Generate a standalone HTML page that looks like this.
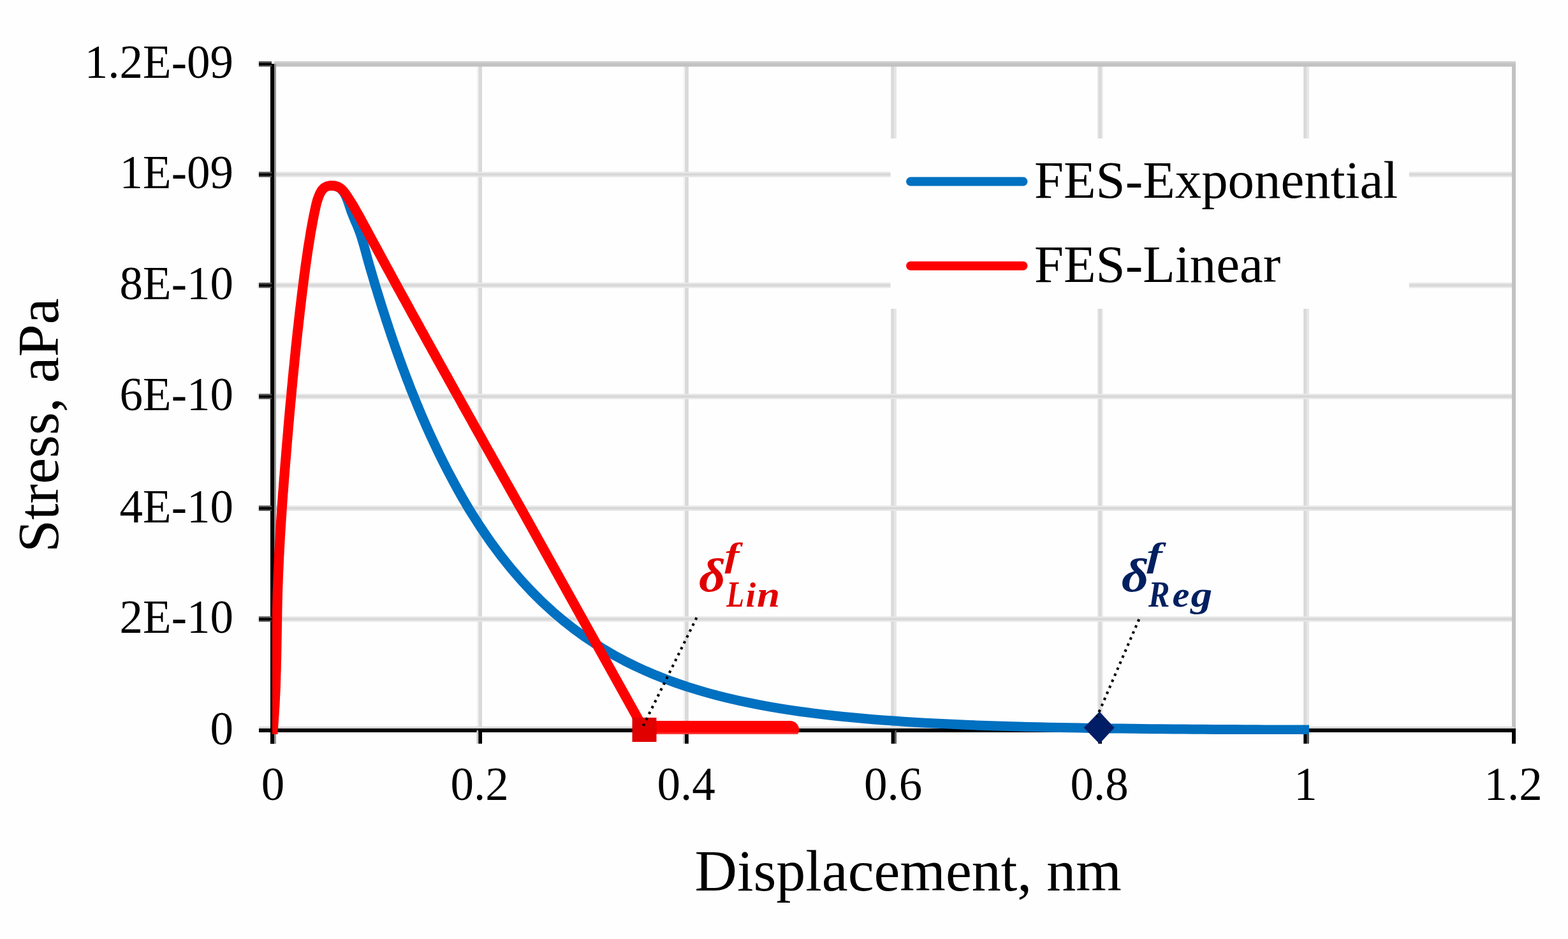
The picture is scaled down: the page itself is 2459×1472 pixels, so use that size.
<!DOCTYPE html><html><head><meta charset="utf-8"><title>FES chart</title>
<style>html,body{margin:0;padding:0;background:#fff;}svg{display:block}text{font-family:"Liberation Serif",serif;fill:#000}</style></head><body>
<svg width="2459" height="1472" viewBox="0 0 2459 1472">
<rect width="2459" height="1472" fill="#fefefe"/>
<g><rect x="747.4" y="100" width="2.9" height="1045" fill="#f4f4f4"/><rect x="750.3" y="100" width="5.7" height="1045" fill="#d9d9d9"/><rect x="1071.4" y="100" width="2.7" height="1045" fill="#f4f4f4"/><rect x="1074.1" y="100" width="5.7" height="1045" fill="#d9d9d9"/><rect x="1397.2" y="100" width="5.4" height="1045" fill="#dadada"/><rect x="1402.6" y="100" width="3.3" height="1045" fill="#e6e6e6"/><rect x="1721.1" y="100" width="2.0" height="1045" fill="#e6e6e6"/><rect x="1723.1" y="100" width="4.5" height="1045" fill="#d8d8d8"/><rect x="1727.6" y="100" width="2.0" height="1045" fill="#e6e6e6"/><rect x="2044.2" y="100" width="5.4" height="1045" fill="#dadada"/><rect x="2049.6" y="100" width="3.4" height="1045" fill="#e8e8e8"/><rect x="430" y="966.3" width="1944" height="8.4" fill="#e7e7e7"/><rect x="430" y="968.8" width="1944" height="3.4" fill="#d7d7d7"/><rect x="430" y="792.5" width="1944" height="8.4" fill="#e7e7e7"/><rect x="430" y="795.0" width="1944" height="3.4" fill="#d7d7d7"/><rect x="430" y="617.3" width="1944" height="8.4" fill="#e7e7e7"/><rect x="430" y="619.8" width="1944" height="3.4" fill="#d7d7d7"/><rect x="430" y="443.0" width="1944" height="8.4" fill="#e7e7e7"/><rect x="430" y="445.5" width="1944" height="3.4" fill="#d7d7d7"/><rect x="430" y="269.3" width="1944" height="8.4" fill="#e7e7e7"/><rect x="430" y="271.8" width="1944" height="3.4" fill="#d7d7d7"/></g>
<rect x="430" y="96" width="1947" height="3" fill="#cfcfcf"/>
<rect x="430" y="99" width="1947" height="5.5" fill="#c2c2c2"/>
<rect x="2371" y="99" width="6" height="1046" fill="#c2c2c2"/>
<rect x="406" y="1139" width="1968" height="3" fill="#d9d9d9"/>
<rect x="430" y="100" width="3" height="1066" fill="#949494"/>
<rect x="1396.6" y="217" width="813.2" height="267" fill="#fefefe"/>
<rect x="424" y="100" width="6" height="1066" fill="#000"/>
<rect x="406" y="1142" width="1971" height="6" fill="#000"/>
<rect x="403.5" y="966.3" width="3" height="8.4" fill="#ececec"/>
<rect x="406" y="966.3" width="20" height="8.4" fill="#555"/>
<rect x="406" y="968.9" width="20" height="3.6" fill="#000"/>
<rect x="403.5" y="792.5" width="3" height="8.4" fill="#ececec"/>
<rect x="406" y="792.5" width="20" height="8.4" fill="#555"/>
<rect x="406" y="795.1" width="20" height="3.6" fill="#000"/>
<rect x="403.5" y="617.3" width="3" height="8.4" fill="#ececec"/>
<rect x="406" y="617.3" width="20" height="8.4" fill="#555"/>
<rect x="406" y="619.9" width="20" height="3.6" fill="#000"/>
<rect x="403.5" y="443.0" width="3" height="8.4" fill="#ececec"/>
<rect x="406" y="443.0" width="20" height="8.4" fill="#555"/>
<rect x="406" y="445.6" width="20" height="3.6" fill="#000"/>
<rect x="403.5" y="269.3" width="3" height="8.4" fill="#ececec"/>
<rect x="406" y="269.3" width="20" height="8.4" fill="#555"/>
<rect x="406" y="271.9" width="20" height="3.6" fill="#000"/>
<rect x="403.5" y="96.1" width="3" height="8.4" fill="#ececec"/>
<rect x="406" y="96.1" width="20" height="8.4" fill="#555"/>
<rect x="406" y="98.7" width="20" height="3.6" fill="#000"/>
<rect x="747.4" y="1145" width="2.9" height="20.8" fill="#c8c8c8"/>
<rect x="750.3" y="1145" width="5.7" height="20.8" fill="#000"/>
<rect x="1071.2" y="1145" width="2.8" height="20.8" fill="#c8c8c8"/>
<rect x="1074.0" y="1145" width="5.8" height="20.8" fill="#000"/>
<rect x="1397.6" y="1145" width="5.8" height="20.8" fill="#000"/>
<rect x="1403.4" y="1145" width="2.5" height="20.8" fill="#555"/>
<rect x="1722.2" y="1145" width="5.8" height="20.8" fill="#000"/>
<rect x="2044.3" y="1145" width="5.5" height="20.8" fill="#000"/>
<rect x="2049.8" y="1145" width="3.2" height="20.8" fill="#555"/>
<rect x="2371.0" y="1145" width="6.0" height="20.8" fill="#000"/>
<defs><clipPath id="pc"><rect x="427" y="90" width="1960" height="1061"/></clipPath></defs>
<g clip-path="url(#pc)" fill="none" stroke-linejoin="round">
<path d="M520.6 291.1 L528.1 292.3 L533.9 295.5 L538.3 300.2 L541.7 306.1 L544.5 312.5 L546.9 319.4 L549.2 326.3 L551.6 333.2 L554.3 339.8 L557.0 346.4 L559.8 352.8 L562.4 359.3 L564.9 365.9 L567.1 372.6 L569.1 379.4 L571.1 386.2 L573.0 393.0 L574.8 399.9 L576.7 406.8 L578.6 413.6 L580.6 420.4 L582.6 427.2 L584.6 434.0 L586.6 440.8 L588.6 447.6 L590.7 454.4 L592.8 461.2 L594.9 468.0 L597.0 474.7 L599.1 481.5 L601.3 488.3 L603.5 495.0 L605.6 501.8 L607.9 508.5 L610.1 515.3 L612.3 522.0 L614.6 528.7 L616.9 535.4 L619.2 542.2 L621.6 548.9 L624.0 555.6 L626.4 562.2 L628.8 568.9 L631.2 575.6 L633.7 582.2 L636.2 588.9 L638.7 595.5 L641.3 602.1 L643.8 608.8 L646.5 615.4 L649.1 621.9 L651.8 628.5 L654.5 635.1 L657.2 641.6 L659.9 648.2 L662.7 654.7 L665.6 661.2 L668.4 667.7 L671.3 674.2 L674.2 680.6 L677.2 687.1 L680.2 693.5 L683.2 699.9 L686.2 706.3 L689.3 712.7 L692.5 719.1 L695.6 725.4 L698.8 731.7 L702.1 738.1 L705.4 744.3 L708.7 750.6 L712.1 756.9 L715.5 763.1 L718.9 769.3 L722.4 775.5 L725.9 781.7 L729.5 787.8 L733.1 793.9 L736.7 800.0 L753.0 825.5 L769.2 849.2 L785.4 871.1 L801.6 891.4 L817.8 910.2 L834.1 927.6 L850.3 943.7 L866.5 958.6 L882.7 972.4 L898.9 985.1 L915.1 997.0 L931.3 1007.9 L947.5 1018.1 L963.7 1027.5 L979.9 1036.2 L996.2 1044.2 L1012.4 1051.7 L1028.6 1058.6 L1044.8 1065.0 L1061.0 1070.9 L1077.2 1076.4 L1093.4 1081.4 L1109.6 1086.1 L1125.8 1090.5 L1142.0 1094.5 L1158.3 1098.2 L1174.5 1101.7 L1190.7 1104.9 L1206.9 1107.8 L1223.1 1110.6 L1239.3 1113.1 L1255.5 1115.5 L1271.7 1117.6 L1287.9 1119.6 L1304.1 1121.5 L1320.4 1123.2 L1336.6 1124.8 L1352.8 1126.3 L1369.0 1127.7 L1385.2 1129.0 L1401.4 1130.1 L1417.6 1131.2 L1433.8 1132.2 L1450.0 1133.2 L1466.2 1134.0 L1482.5 1134.8 L1498.7 1135.6 L1514.9 1136.2 L1531.1 1136.9 L1547.3 1137.5 L1563.5 1138.0 L1579.7 1138.5 L1595.9 1139.0 L1612.1 1139.4 L1628.3 1139.8 L1644.6 1140.2 L1660.8 1140.5 L1677.0 1140.8 L1693.2 1141.1 L1709.4 1141.4 L1725.6 1141.7 L1741.8 1141.9 L1758.0 1142.1 L1774.2 1142.3 L1790.4 1142.5 L1806.7 1142.7 L1822.9 1142.8 L1839.1 1143.0 L1855.3 1143.1 L1871.5 1143.2 L1887.7 1143.3 L1903.9 1143.5 L1920.1 1143.6 L1936.3 1143.6 L1952.5 1143.7 L1968.8 1143.8 L1985.0 1143.9 L2001.2 1144.0 L2017.4 1144.0 L2033.6 1144.1 L2049.8 1144.1 L2053.0 1144.1" stroke="#0070c0" stroke-width="15"/>
<path d="M427.5 1160.0 L428.0 1145.0 L428.5 1139.4 L428.9 1133.8 L429.3 1128.2 L429.7 1122.6 L430.1 1117.0 L430.4 1111.4 L430.8 1105.7 L431.1 1100.1 L431.3 1094.5 L431.6 1088.9 L431.9 1083.2 L432.1 1077.6 L432.3 1071.9 L432.5 1066.3 L432.6 1060.7 L432.8 1055.0 L433.0 1049.4 L433.1 1043.7 L433.2 1038.1 L433.4 1032.4 L433.5 1026.8 L433.6 1021.1 L433.7 1015.5 L433.8 1009.8 L433.9 1004.1 L434.0 998.5 L434.1 992.8 L434.2 987.2 L434.3 981.5 L434.4 975.9 L434.5 970.2 L434.6 964.6 L434.7 958.9 L434.8 953.2 L434.9 947.6 L435.0 941.9 L435.2 936.3 L435.3 930.6 L435.5 925.0 L435.7 919.3 L435.9 913.7 L436.1 908.1 L436.3 902.4 L436.5 896.8 L436.8 891.1 L437.0 885.5 L437.3 879.9 L437.5 874.2 L437.8 868.6 L438.1 863.0 L438.4 857.3 L438.7 851.7 L439.0 846.1 L439.3 840.4 L439.7 834.8 L440.0 829.2 L440.4 823.6 L440.7 817.9 L441.1 812.3 L441.5 806.7 L441.8 801.1 L442.2 795.4 L442.6 789.8 L443.0 784.2 L443.4 778.6 L443.8 772.9 L444.3 767.3 L444.7 761.7 L445.1 756.1 L445.5 750.5 L446.0 744.8 L446.4 739.2 L446.9 733.6 L447.3 728.0 L447.8 722.3 L448.3 716.7 L448.7 711.1 L449.2 705.5 L449.7 699.9 L450.1 694.2 L450.6 688.6 L451.1 683.0 L451.6 677.4 L452.0 671.7 L452.5 666.1 L453.0 660.5 L453.5 654.8 L454.0 649.2 L454.5 643.6 L455.0 638.0 L455.5 632.3 L456.1 626.7 L456.6 621.1 L457.1 615.5 L457.6 609.8 L458.2 604.2 L458.7 598.6 L459.2 593.0 L459.8 587.3 L460.3 581.7 L460.9 576.1 L461.5 570.5 L462.0 564.9 L462.6 559.2 L463.2 553.6 L463.7 548.0 L464.3 542.4 L464.9 536.8 L465.5 531.2 L466.1 525.6 L466.7 519.9 L467.4 514.3 L468.0 508.7 L468.6 503.1 L469.3 497.5 L469.9 491.9 L470.5 486.3 L471.2 480.7 L471.9 475.1 L472.5 469.5 L473.2 463.9 L473.9 458.3 L474.6 452.8 L475.3 447.2 L476.0 441.6 L476.7 436.0 L477.4 430.4 L478.2 424.8 L478.9 419.3 L479.7 413.7 L480.5 408.1 L481.3 402.5 L482.1 397.0 L482.9 391.4 L483.8 385.8 L484.7 380.2 L485.6 374.7 L486.5 369.1 L487.4 363.5 L488.4 358.0 L489.4 352.4 L490.5 346.8 L491.5 341.2 L492.6 335.7 L493.8 330.1 L495.0 324.5 L496.3 319.0 L497.8 313.6 L499.7 308.2 L501.9 303.1 L504.6 298.4 L508.2 294.6 L512.9 292.0 L518.6 290.9 L524.7 291.2 L530.2 292.9 L534.9 295.8 L538.7 299.7 L542.1 304.2 L545.3 308.9 L548.3 313.6 L551.3 318.4 L554.3 323.2 L557.1 328.1 L559.9 333.0 L562.7 337.9 L565.4 342.8 L568.1 347.8 L570.8 352.8 L573.5 357.7 L576.2 362.7 L578.8 367.7 L581.5 372.6 L584.2 377.6 L586.9 382.6 L589.6 387.5 L592.3 392.5 L594.9 397.4 L597.6 402.4 L600.3 407.4 L603.0 412.3 L605.7 417.3 L608.4 422.2 L611.1 427.2 L613.8 432.2 L616.5 437.1 L619.2 442.1 L621.9 447.0 L624.6 452.0 L627.3 456.9 L630.0 461.9 L632.7 466.8 L635.5 471.8 L638.2 476.7 L640.9 481.7 L643.6 486.6 L646.3 491.6 L649.0 496.5 L651.8 501.4 L654.5 506.4 L657.2 511.3 L659.9 516.3 L662.7 521.2 L665.4 526.2 L668.1 531.1 L670.8 536.0 L673.6 541.0 L676.3 545.9 L679.0 550.8 L681.8 555.8 L684.5 560.7 L687.3 565.7 L690.0 570.6 L692.7 575.5 L695.5 580.5 L698.2 585.4 L701.0 590.3 L703.7 595.2 L706.5 600.2 L709.2 605.1 L711.9 610.0 L714.7 615.0 L717.4 619.9 L720.2 624.8 L723.0 629.8 L725.7 634.7 L728.5 639.6 L731.2 644.5 L734.0 649.5 L736.7 654.4 L739.5 659.3 L742.2 664.2 L745.0 669.2 L747.8 674.1 L750.5 679.0 L753.3 683.9 L756.0 688.8 L758.8 693.8 L761.6 698.7 L764.3 703.6 L767.1 708.5 L769.9 713.4 L772.6 718.4 L775.4 723.3 L778.2 728.2 L780.9 733.1 L783.7 738.0 L786.5 742.9 L789.2 747.9 L792.0 752.8 L794.8 757.7 L797.6 762.6 L800.3 767.5 L803.1 772.4 L805.9 777.4 L808.7 782.3 L811.4 787.2 L814.2 792.1 L817.0 797.0 L1010.6 1144.8" stroke="#ff0000" stroke-width="15.4" stroke-linecap="butt"/>
<path d="M1010.6 1144 L1239 1144" stroke="#ff0000" stroke-width="28" stroke-linecap="round"/>
<rect x="1029.8" y="1148.4" width="223" height="3" fill="#ffffff" fill-opacity="0.22"/>
</g>
<rect x="991.5" y="1125" width="38" height="38" fill="#e00000"/>
<path d="M1724.2 1115.6 L1747.6 1140.8 L1724.2 1166 L1699.8 1140.8 Z" fill="#001d66"/>
<path d="M1092.5 968.2 L1008.3 1138.7" stroke="#000" stroke-width="4.1" stroke-dasharray="3.9 6.4" fill="none"/>
<path d="M1786.3 970.8 L1720.2 1124" stroke="#000" stroke-width="4.1" stroke-dasharray="3.9 6.4" fill="none"/>
<path d="M1428 284.6 L1604.5 284.6" stroke="#0070c0" stroke-width="14" stroke-linecap="round"/>
<path d="M1428 416.8 L1604.5 416.8" stroke="#ff0000" stroke-width="14" stroke-linecap="round"/>
<text id="leg1" x="1622" y="310.2" font-size="82.8">FES-Exponential</text>
<text id="leg2" x="1622" y="442" font-size="82.8">FES-Linear</text>
<text id="yt0" x="366" y="1166.9" font-size="73" text-anchor="end">0</text>
<text id="yt1" x="366" y="992.4" font-size="73" text-anchor="end">2E-10</text>
<text id="yt2" x="366" y="818.6" font-size="73" text-anchor="end">4E-10</text>
<text id="yt3" x="366" y="643.4" font-size="73" text-anchor="end">6E-10</text>
<text id="yt4" x="366" y="469.1" font-size="73" text-anchor="end">8E-10</text>
<text id="yt5" x="366" y="295.4" font-size="73" text-anchor="end">1E-09</text>
<text id="yt6" x="366" y="122.2" font-size="73" text-anchor="end">1.2E-09</text>
<text id="xt0" x="428.0" y="1253.7" font-size="73" text-anchor="middle">0</text>
<text id="xt1" x="752.0" y="1253.7" font-size="73" text-anchor="middle">0.2</text>
<text id="xt2" x="1076.0" y="1253.7" font-size="73" text-anchor="middle">0.4</text>
<text id="xt3" x="1400.5" y="1253.7" font-size="73" text-anchor="middle">0.6</text>
<text id="xt4" x="1724.0" y="1253.7" font-size="73" text-anchor="middle">0.8</text>
<text id="xt5" x="2047.5" y="1253.7" font-size="73" text-anchor="middle">1</text>
<text id="xt6" x="2373.0" y="1253.7" font-size="73" text-anchor="middle">1.2</text>
<text id="xtitle" x="1424.2" y="1396.3" font-size="92" text-anchor="middle">Displacement, nm</text>
<text id="ytitle" transform="translate(90.9 666.8) rotate(-90)" font-size="92" text-anchor="middle">Stress, aPa</text>
<g id="a1" font-weight="bold" font-style="italic"><text transform="translate(1096.0 926.6) scale(1.106 1)" font-size="73.6" style="fill:#e00000">δ</text><text transform="translate(1136.4 888.4) scale(1.302 1)" font-size="52.8" style="fill:#e00000">f</text><text y="950.5" style="fill:#e00000"><tspan x="1139.3" font-size="56.5" textLength="27.72" lengthAdjust="spacingAndGlyphs">L</tspan><tspan x="1169.6" font-size="54.0" textLength="15.68" lengthAdjust="spacingAndGlyphs">i</tspan><tspan x="1187.1" font-size="58.0" textLength="36.16" lengthAdjust="spacingAndGlyphs">n</tspan></text></g>
<g id="a2" font-weight="bold" font-style="italic"><text transform="translate(1758.7 926.6) scale(1.135 1)" font-size="73.6" style="fill:#002060">δ</text><text transform="translate(1798.3 888.4) scale(1.393 1)" font-size="52.8" style="fill:#002060">f</text><text y="950.5" style="fill:#002060"><tspan x="1801.1" font-size="56.5" textLength="33.46" lengthAdjust="spacingAndGlyphs">R</tspan><tspan x="1838.6" font-size="56.5" textLength="26.92" lengthAdjust="spacingAndGlyphs">e</tspan><tspan x="1867.5" font-size="58.0" textLength="33.67" lengthAdjust="spacingAndGlyphs">g</tspan></text></g>
</svg></body></html>
